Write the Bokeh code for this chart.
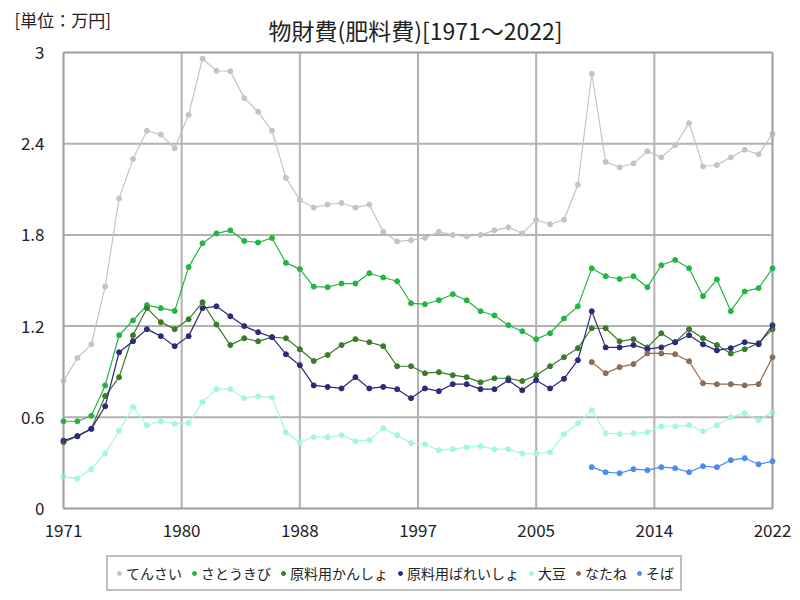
from bokeh.plotting import figure
from bokeh.models import (Legend, LegendItem, Label, ColumnDataSource, Range1d, BoxAnnotation)
from bokeh.core.properties import value
from bokeh.embed import file_html
from bokeh.resources import INLINE

years = list(range(1971, 2023))
years_late = list(range(2009, 2023))

tensai = [0.84, 0.99, 1.08, 1.46, 2.04, 2.30, 2.485, 2.46, 2.37, 2.59,
          2.96, 2.88, 2.877, 2.70, 2.61, 2.485, 2.175, 2.03, 1.98, 2.00,
          2.01, 1.98, 2.00, 1.82, 1.757, 1.765, 1.78, 1.82, 1.80, 1.79,
          1.80, 1.83, 1.85, 1.81, 1.90, 1.87, 1.90, 2.13, 2.86, 2.28,
          2.245, 2.27, 2.35, 2.31, 2.39, 2.535, 2.25, 2.26, 2.31, 2.36,
          2.33, 2.465]
satoukibi = [0.574, 0.574, 0.61, 0.81, 1.14, 1.237, 1.338, 1.318, 1.30, 1.588,
             1.745, 1.81, 1.83, 1.76, 1.75, 1.78, 1.616, 1.575, 1.46, 1.456,
             1.48, 1.48, 1.548, 1.52, 1.495, 1.35, 1.344, 1.37, 1.41, 1.37,
             1.298, 1.27, 1.206, 1.166, 1.114, 1.153, 1.25, 1.33, 1.58, 1.528,
             1.51, 1.528, 1.456, 1.60, 1.635, 1.58, 1.397, 1.507, 1.298, 1.428,
             1.45, 1.58]
kansho = [0.436, 0.476, 0.524, 0.74, 0.864, 1.14, 1.318, 1.226, 1.18, 1.245,
          1.357, 1.21, 1.075, 1.12, 1.10, 1.127, 1.12, 1.048, 0.97, 1.01,
          1.075, 1.114, 1.094, 1.068, 0.936, 0.936, 0.89, 0.897, 0.877, 0.864,
          0.83, 0.857, 0.857, 0.838, 0.877, 0.936, 0.995, 1.055, 1.186, 1.186,
          1.10, 1.114, 1.06, 1.153, 1.094, 1.18, 1.12, 1.075, 1.02, 1.048,
          1.088, 1.18]
bareisho = [0.447, 0.476, 0.524, 0.673, 1.028, 1.10, 1.18, 1.134, 1.068, 1.134,
            1.318, 1.33, 1.265, 1.20, 1.16, 1.127, 1.015, 0.943, 0.81, 0.80,
            0.79, 0.864, 0.79, 0.80, 0.785, 0.726, 0.79, 0.772, 0.818, 0.818,
            0.785, 0.785, 0.844, 0.778, 0.844, 0.79, 0.853, 0.976, 1.298, 1.06,
            1.06, 1.075, 1.048, 1.06, 1.094, 1.14, 1.08, 1.04, 1.055, 1.094,
            1.08, 1.206]
daizu = [0.21, 0.197, 0.26, 0.364, 0.51, 0.667, 0.548, 0.574, 0.557, 0.564,
         0.70, 0.785, 0.785, 0.726, 0.739, 0.73, 0.50, 0.436, 0.469, 0.469,
         0.482, 0.443, 0.45, 0.528, 0.482, 0.43, 0.423, 0.384, 0.39, 0.403,
         0.41, 0.39, 0.39, 0.362, 0.362, 0.37, 0.489, 0.561, 0.647, 0.495,
         0.489, 0.495, 0.502, 0.541, 0.541, 0.548, 0.508, 0.548, 0.60, 0.627,
         0.581, 0.634]
natane = [0.963, 0.89, 0.93, 0.95, 1.02, 1.02, 1.015, 0.969, 0.824, 0.818,
          0.818, 0.81, 0.818, 0.995]
soba = [0.272, 0.239, 0.232, 0.259, 0.252, 0.272, 0.265, 0.239, 0.278, 0.272,
        0.318, 0.331, 0.291, 0.311]

series = [
    ("てんさい", years, tensai, "#cbbfc9"),
    ("さとうきび", years, satoukibi, "#22b640"),
    ("原料用かんしょ", years, kansho, "#3b7a2a"),
    ("原料用ばれいしょ", years, bareisho, "#2b2a7c"),
    ("大豆", years, daizu, "#a2f7e0"),
    ("なたね", years_late, natane, "#8e6b52"),
    ("そば", years_late, soba, "#4a8cf0"),
]

x_min, x_max = 1971, 2022
y_min, y_max = 0, 3
x_ticks = [1971, 1979.5, 1988, 1996.5, 2005, 2013.5, 2022]
x_tick_labels = ["1971", "1980", "1988", "1997", "2005", "2014", "2022"]
y_ticks = [0, 0.6, 1.2, 1.8, 2.4, 3]
y_tick_labels = ["0", "0.6", "1.2", "1.8", "2.4", "3"]

FONT = "Noto Sans CJK JP"
W, H = 800, 600
# plot box in pixels: left 63, right 772, top 52, bottom 508
PL, PR, PT, PB = 63, 772, 52, 508
xs_per_px = (x_max - x_min) / (PR - PL)
ys_per_px = (y_max - y_min) / (PB - PT)
x_range = Range1d(x_min - PL * xs_per_px, x_max + (W - PR) * xs_per_px)
y_range = Range1d(y_min - (H - PB) * ys_per_px, y_max + PT * ys_per_px)

p = figure(width=W, height=H, output_backend="svg", toolbar_location=None,
           x_range=x_range, y_range=y_range,
           x_axis_location=None, y_axis_location=None, min_border=0)
p.outline_line_color = None
p.background_fill_color = "white"
p.xgrid.visible = False
p.ygrid.visible = False

# grid lines within the plot box
p.segment(x0=x_ticks, x1=x_ticks, y0=[y_min] * len(x_ticks), y1=[y_max] * len(x_ticks),
          line_color="#b2b2b2", line_width=2)
p.segment(x0=[x_min] * len(y_ticks), x1=[x_max] * len(y_ticks), y0=y_ticks, y1=y_ticks,
          line_color="#b2b2b2", line_width=2)

items = []
for name, xs, ys, color in series:
    src = ColumnDataSource(dict(x=xs, y=ys))
    p.line("x", "y", source=src, line_color=color, line_width=1.2)
    r = p.scatter("x", "y", source=src, size=5, fill_color=color, line_color=color)
    items.append(LegendItem(label=name, renderers=[r]))

p.add_layout(BoxAnnotation(left=x_min, right=x_max, bottom=y_min, top=y_max,
                           fill_alpha=0, line_color="#7a7a7a", line_width=2))

# tick labels
p.text(x=x_ticks, y=[y_min] * len(x_ticks), text=x_tick_labels, y_offset=22,
       text_align="center", text_baseline="middle", text_font=value(FONT),
       text_font_size="17px", text_color="#222222")
p.text(x=[x_min] * len(y_ticks), y=y_ticks, text=y_tick_labels, x_offset=-19,
       text_align="right", text_baseline="middle", text_font=value(FONT),
       text_font_size="17px", text_color="#222222")

legend = Legend(items=items, orientation="horizontal", location=(106, 9),
                label_text_font=FONT, label_text_font_size="14px",
                label_text_color="#222222", glyph_width=10, glyph_height=14,
                label_standoff=2, spacing=7, padding=6,
                border_line_color="#808080", border_line_width=2,
                background_fill_color="white", background_fill_alpha=1.0, margin=0)
p.add_layout(legend, "center")

p.add_layout(Label(x=14, y=H - 19, x_units="screen", y_units="screen",
                   text="[単位：万円]", text_font=FONT, text_font_size="17px",
                   text_color="#222222", text_baseline="middle"))
p.add_layout(Label(x=415, y=H - 29, x_units="screen", y_units="screen",
                   text="物財費(肥料費)[1971～2022]", text_font=FONT, text_font_size="23px",
                   text_color="#222222", text_align="center", text_baseline="middle"))

open("out.html", "w").write(file_html(p, INLINE))
